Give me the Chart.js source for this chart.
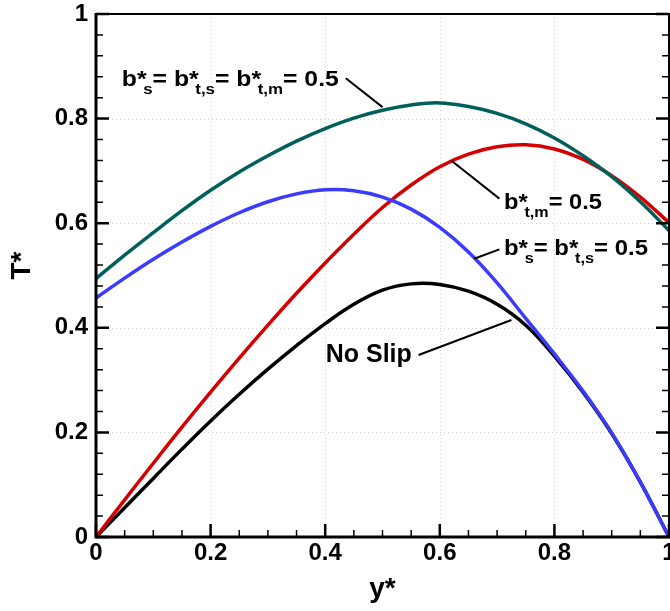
<!DOCTYPE html>
<html>
<head>
<meta charset="utf-8">
<script src="https://cdn.jsdelivr.net/npm/chart.js@4"></script>
<style>
  html, body { margin: 0; padding: 0; background: #fff; }
  canvas { display: block; }
</style>
</head>
<body>
<canvas id="tempChart" width="670" height="611"></canvas>
<script>
// ========================
// T* profiles across the channel (y*)
// ========================

// y* positions shared by all the profiles
const yStar = [0, 0.05, 0.1, 0.15, 0.2, 0.25, 0.3, 0.35, 0.4, 0.45, 0.5,
               0.55, 0.6, 0.65, 0.7, 0.75, 0.8, 0.85, 0.9, 0.95, 1];

// No Slip
const tNoSlip = [0, 0.056, 0.112, 0.168, 0.222, 0.273, 0.321, 0.366, 0.408, 0.445, 0.472,
                 0.484, 0.483, 0.470, 0.445, 0.405, 0.346, 0.277, 0.198, 0.105, 0];
// b*t,m = 0.5
const tSlipTm = [0, 0.071, 0.141, 0.210, 0.277, 0.342, 0.405, 0.466, 0.524, 0.579, 0.630,
                 0.673, 0.708, 0.732, 0.746, 0.750, 0.742, 0.722, 0.691, 0.650, 0.601];
// b*s = b*t,s = 0.5
const tSlipSTs = [0.457, 0.495, 0.531, 0.564, 0.594, 0.620, 0.641, 0.656, 0.664, 0.662, 0.650,
                  0.627, 0.592, 0.545, 0.486, 0.418, 0.350, 0.279, 0.199, 0.105, 0];
// b*s = b*t,s = b*t,m = 0.5
const tSlipAll = [0.494, 0.539, 0.582, 0.624, 0.663, 0.698, 0.729, 0.757, 0.781, 0.801, 0.816,
                  0.826, 0.830, 0.823, 0.810, 0.790, 0.763, 0.729, 0.689, 0.641, 0.586];

// tick labels
const xTicks = [0, 0.2, 0.4, 0.6, 0.8, 1];
const yTicks = [0, 0.2, 0.4, 0.6, 0.8, 1];

const pts = (ys) => yStar.map((x, i) => ({ x: x, y: ys[i] }));

const FONT = '"Liberation Sans", Arial, sans-serif';

// labels with leader lines (data coordinates)
const notes = [
    { parts: [['b*'], ['s', 1], ['= b*'], ['t,s', 1], ['= b*'], ['t,m', 1], ['= 0.5']],
      at: [0.045, 0.862], width: 217, from: [0.436, 0.877], to: [0.500, 0.822], size: 22 },
    { parts: [['b*'], ['t,m', 1], ['= 0.5']],
      at: [0.712, 0.628], width: 98, from: [0.704, 0.647], to: [0.621, 0.719], size: 22 },
    { parts: [['b*'], ['s', 1], ['= b*'], ['t,s', 1], ['= 0.5']],
      at: [0.712, 0.539], width: 144, from: [0.704, 0.550], to: [0.660, 0.532], size: 22 },
    { parts: [['No Slip']],
      at: [0.401, 0.334], width: 86, from: [0.563, 0.348], to: [0.725, 0.415], size: 25 }
];

function drawNote(ctx, n, x, y) {
    const main = 'bold ' + n.size + 'px ' + FONT;
    const sub = 'bold 15px ' + FONT;
    // measure first
    let w = 0;
    n.parts.forEach(p => {
        ctx.font = p[1] ? sub : main;
        w += ctx.measureText(p[0]).width + (p[1] ? -3 : 0);
    });
    ctx.save();
    ctx.translate(x, y);
    ctx.scale(n.width / w, 1);
    ctx.fillStyle = '#000';
    ctx.textBaseline = 'alphabetic';
    ctx.textAlign = 'left';
    let cx = 0;
    n.parts.forEach(p => {
        if (p[1]) {
            ctx.font = sub;
            cx -= 3;
            ctx.fillText(p[0], cx, 8);
        } else {
            ctx.font = main;
            ctx.fillText(p[0], cx, 0);
        }
        cx += ctx.measureText(p[0]).width;
    });
    ctx.restore();
}

const framePlugin = {
    id: 'frame',
    beforeDatasetsDraw(chart) {
        const { ctx, chartArea: a, scales: { x, y } } = chart;
        ctx.save();
        ctx.strokeStyle = 'rgba(0,0,0,0.18)';
        ctx.lineWidth = 1;
        ctx.setLineDash([1, 3]);
        ctx.beginPath();
        xTicks.forEach(v => {
            const px = Math.round(x.getPixelForValue(v)) + 0.5;
            ctx.moveTo(px, a.top); ctx.lineTo(px, a.bottom);
        });
        yTicks.forEach(v => {
            const py = Math.round(y.getPixelForValue(v)) + 0.5;
            ctx.moveTo(a.left, py); ctx.lineTo(a.right, py);
        });
        ctx.stroke();
        ctx.restore();
    },
    afterDatasetsDraw(chart) {
        const { ctx, chartArea: a, scales: { x, y } } = chart;
        ctx.save();
        ctx.strokeStyle = '#000';
        ctx.lineCap = 'butt';

        // minor / major ticks pointing inward
        ctx.lineWidth = 1.5;
        ctx.beginPath();
        for (let i = 1; i < 20; i++) {
            if (i % 4 === 0) continue;
            const px = x.getPixelForValue(i * 0.05);
            ctx.moveTo(px, a.bottom); ctx.lineTo(px, a.bottom - 7);
        }
        for (let i = 1; i < 25; i++) {
            if (i % 5 === 0) continue;
            const py = y.getPixelForValue(i * 0.04);
            ctx.moveTo(a.left, py); ctx.lineTo(a.left + 7, py);
            ctx.moveTo(a.right, py); ctx.lineTo(a.right - 7, py);
        }
        ctx.stroke();
        ctx.lineWidth = 2.5;
        ctx.beginPath();
        xTicks.forEach(v => {
            const px = x.getPixelForValue(v);
            ctx.moveTo(px, a.bottom); ctx.lineTo(px, a.bottom - 13);
        });
        yTicks.forEach(v => {
            const py = y.getPixelForValue(v);
            ctx.moveTo(a.left, py); ctx.lineTo(a.left + 13, py);
            ctx.moveTo(a.right, py); ctx.lineTo(a.right - 13, py);
        });
        ctx.stroke();

        // box
        ctx.lineWidth = 2;
        ctx.beginPath();
        ctx.moveTo(a.left, a.top); ctx.lineTo(a.right, a.top); ctx.lineTo(a.right, a.bottom);
        ctx.stroke();
        ctx.lineWidth = 3;
        ctx.beginPath();
        ctx.moveTo(a.left, a.top - 1); ctx.lineTo(a.left, a.bottom); ctx.lineTo(a.right + 1, a.bottom);
        ctx.stroke();

        // annotations
        ctx.lineWidth = 2;
        notes.forEach(n => {
            ctx.beginPath();
            ctx.moveTo(x.getPixelForValue(n.from[0]), y.getPixelForValue(n.from[1]));
            ctx.lineTo(x.getPixelForValue(n.to[0]), y.getPixelForValue(n.to[1]));
            ctx.stroke();
            drawNote(ctx, n, x.getPixelForValue(n.at[0]), y.getPixelForValue(n.at[1]));
        });

        // axis titles
        ctx.fillStyle = '#000';
        ctx.font = 'bold 28px ' + FONT;
        ctx.textAlign = 'center';
        ctx.textBaseline = 'middle';
        ctx.fillText('y*', (a.left + a.right) / 2, a.bottom + 52);
        ctx.translate(a.left - 74, (a.top + a.bottom) / 2 - 10);
        ctx.rotate(-Math.PI / 2);
        ctx.fillText('T*', 0, 0);
        ctx.restore();
    }
};

const lineStyle = (color, data) => ({
    data: pts(data),
    borderColor: color,
    backgroundColor: color,
    borderWidth: 3.5,
    pointRadius: 0,
    fill: false,
    tension: 0.4
});

const tickFont = { family: FONT, size: 24, weight: 'bold' };

const config = {
    type: 'line',
    data: {
        datasets: [
            lineStyle('#3b3bff', tSlipSTs),
            lineStyle('#005f5a', tSlipAll),
            lineStyle('#d40000', tSlipTm),
            lineStyle('#000000', tNoSlip)
        ]
    },
    options: {
        responsive: false,
        animation: false,
        devicePixelRatio: 1,
        layout: { padding: { top: 14, right: 1, left: 0, bottom: 0 } },
        plugins: {
            legend: { display: false },
            tooltip: { enabled: false }
        },
        scales: {
            x: {
                type: 'linear',
                min: 0, max: 1,
                grid: { display: false, drawTicks: false },
                border: { display: false },
                afterBuildTicks: s => { s.ticks = xTicks.map(v => ({ value: v })); },
                afterFit: s => { s.height = 74; s.paddingLeft = 0; s.paddingRight = 0; },
                ticks: {
                    color: '#000', font: tickFont, padding: 2, maxRotation: 0,
                    callback: v => String(+v.toFixed(1))
                }
            },
            y: {
                type: 'linear',
                min: 0, max: 1,
                grid: { display: false, drawTicks: false },
                border: { display: false },
                afterBuildTicks: s => { s.ticks = yTicks.map(v => ({ value: v })); },
                afterFit: s => { s.width = 96; s.paddingTop = 0; s.paddingBottom = 0; },
                ticks: {
                    color: '#000', font: tickFont, padding: 8,
                    callback: v => String(+v.toFixed(1))
                }
            }
        }
    },
    plugins: [framePlugin]
};

window.addEventListener('DOMContentLoaded', () => {
    const ctx = document.getElementById('tempChart').getContext('2d');
    new Chart(ctx, config);
});
</script>
</body>
</html>
